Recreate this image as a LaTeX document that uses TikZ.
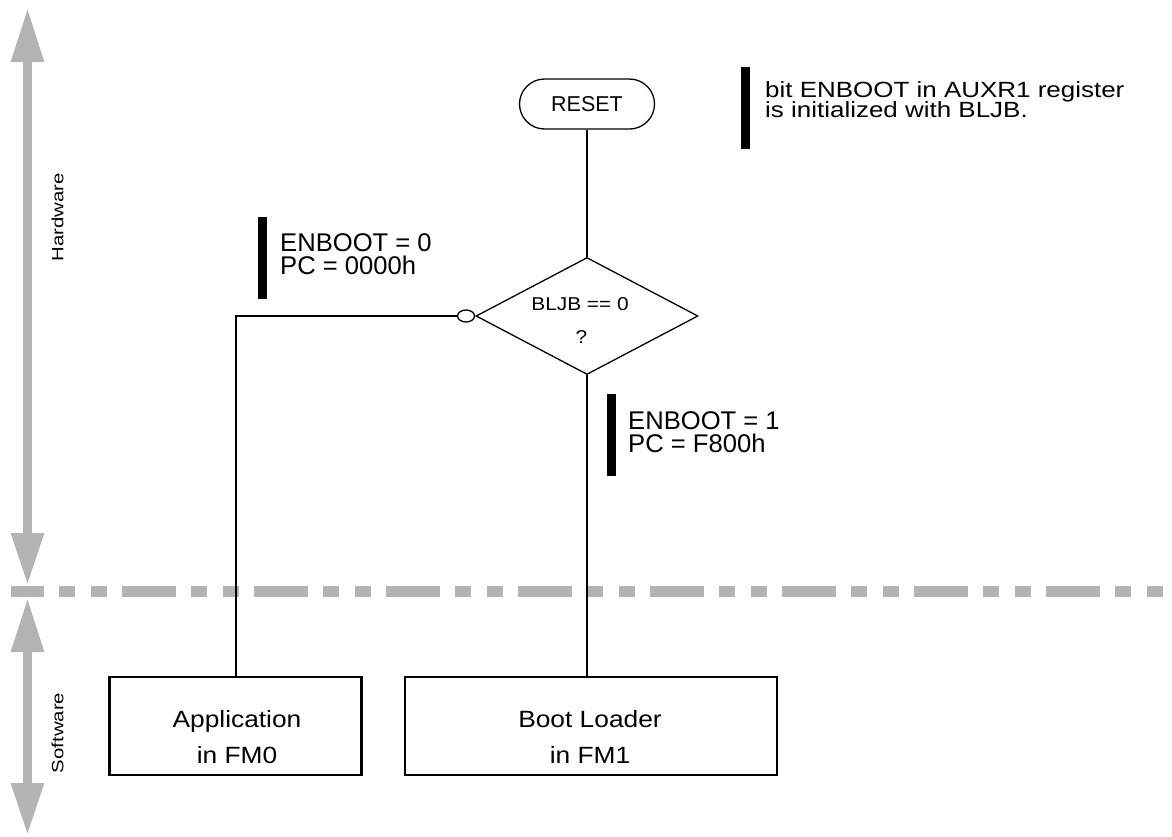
\documentclass[tikz,border=0pt]{standalone}
\usepackage{fontspec}
\setmainfont{Liberation Sans}
\newfontfamily\fB[FakeStretch=1.12]{Liberation Sans}
\newfontfamily\fC[FakeStretch=1.18]{Liberation Sans}
\newfontfamily\fD[FakeStretch=1.25]{Liberation Sans}
\usetikzlibrary{arrows.meta,shapes.geometric}
\definecolor{axisgray}{HTML}{B3B3B3}
\begin{document}
\begin{tikzpicture}[x=1pt,y=-1pt,
  axisarrow/.style={draw=axisgray, line width=9pt,
    {Triangle[length=54pt,width=31pt]}-{Triangle[length=52pt,width=31pt]}},
  sepline/.style={draw=axisgray, line width=11pt, line cap=butt,
    dash pattern=on 54pt off 15pt on 16pt off 16pt on 16pt off 15pt, dash phase=21pt},
  conn/.style={draw=black, line width=2pt},
  resetbox/.style={draw, line width=1.3pt, rectangle, rounded corners=25pt,
    minimum width=135pt, minimum height=50pt, inner sep=0pt,
    font=\fontsize{21.5}{25}\selectfont},
  decbox/.style={draw, line width=1.3pt, diamond, minimum width=222pt,
    minimum height=117pt, inner sep=0pt},
  invcirc/.style={draw, line width=1.3pt, ellipse, minimum width=17pt,
    minimum height=12pt, inner sep=0pt, fill=white},
  blockbox/.style={draw, line width=2.2pt, rectangle, inner sep=0pt, minimum height=98pt},
  notebar/.style={fill=black, rectangle, minimum width=9pt, minimum height=82pt, inner sep=0pt},
  notetext/.style={anchor=north west, inner sep=0pt, align=left,
    font=\fontsize{25.6}{23.3}\selectfont},
  toptext/.style={anchor=base west, inner sep=0pt, font=\fC\fontsize{22}{20}\selectfont},
  boxtext/.style={anchor=base, inner sep=0pt, font=\fB\fontsize{23.5}{28}\selectfont},
  dectext/.style={anchor=base, inner sep=0pt, font=\fB\fontsize{18.6}{22}\selectfont},
  sidetext/.style={anchor=base, inner sep=0pt, rotate=90, font=\fD\fontsize{16.3}{20}\selectfont}
]
\useasboundingbox (0,0) rectangle (1172,836);

% separator line
\coordinate (sepL) at (11,591);
\coordinate (sepR) at (1164,591);
\draw[sepline] (sepL) -- (sepR);

% side arrows
\coordinate (hwT) at (27.5,8);
\coordinate (hwB) at (27.5,585);
\coordinate (swT) at (27.5,598);
\coordinate (swB) at (27.5,835);
\draw[axisarrow] (hwT) -- (hwB);
\draw[axisarrow] (swT) -- (swB);
\node[sidetext] (hw) at (63.3,217.5) {Hardware};
\node[sidetext] (sw) at (63.3,733) {Software};

% flow nodes
\node[resetbox] (reset) at (587,104) {RESET};
\node[decbox] (dec) at (587,316) {};
\node[dectext] (q1) at (580,310) {BLJB == 0};
\node[dectext] (q2) at (581.5,343) {?};
\node[invcirc] (inv) at (466,316) {};

\node[blockbox, minimum width=252pt] (app) at (235.5,726) {};
\node[boxtext] (app1) at (237,727) {Application};
\node[boxtext] (app2) at (237,763) {in FM0};

\node[blockbox, minimum width=372pt] (boot) at (591,726) {};
\node[boxtext] (boot1) at (590,727) {Boot Loader};
\node[boxtext] (boot2) at (590,763) {in FM1};

% connectors
\draw[conn] (reset.south) -- (dec.north);
\draw[conn] (inv.west) -| (app.north);
\draw[conn] (dec.south) -- (dec.south |- boot.north);

% notes
\node[notebar] (bar1) at (262.5,258) {};
\node[notetext] (n1) at (280,233.5) {ENBOOT = 0\\PC = 0000h};

\node[notebar] (bar2) at (611,435) {};
\node[notetext] (n2) at (628,411.5) {ENBOOT = 1\\PC = F800h};

\node[notebar] (bar3) at (745.5,108) {};
\node[toptext] (n3a) at (765,97) {bit ENBOOT in AUXR1 register};
\node[toptext] (n3b) at (765,117) {is initialized with BLJB.};
\end{tikzpicture}
\end{document}
